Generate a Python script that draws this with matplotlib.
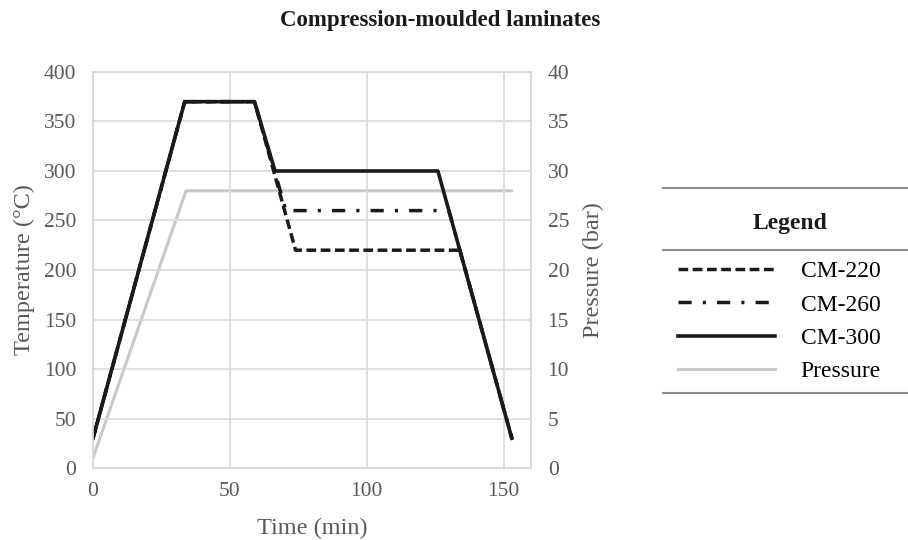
import matplotlib
matplotlib.use("Agg")
import matplotlib.pyplot as plt
from matplotlib.lines import Line2D

plt.rcParams['font.family'] = ['Liberation Serif', 'DejaVu Serif']

# time (min) / temperature (degC) for each cycle
t_cm220 = [0, 33.5, 59, 74, 134, 153]
T_cm220 = [30, 370, 370, 220, 220, 30]
t_cm260 = [0, 33.5, 59, 70.5, 130, 153]
T_cm260 = [30, 370, 370, 260, 260, 30]
t_cm300 = [0, 33.5, 59, 66.5, 126, 153]
T_cm300 = [30, 370, 370, 300, 300, 30]
# pressure (bar)
t_press = [0, 34, 153]
p_press = [1, 28, 28]

grid_c = '#d9d9d9'
txt_c = '#595959'
blk = '#1a1a1a'

fig = plt.figure(figsize=(9.08, 5.4), dpi=100)
ax = fig.add_axes([0.1024, 0.1333, 0.4824, 0.7334])
ax2 = ax.twinx()

l220, = ax.plot(t_cm220, T_cm220, color=blk, lw=2.5, ls=(0, (2.8, 1.3)), label='CM-220')
l260, = ax.plot(t_cm260, T_cm260, color=blk, lw=2.5, ls=(0, (3.8, 3.2, 0.9, 3.2)), label='CM-260')
l300, = ax.plot(t_cm300, T_cm300, color=blk, lw=2.6, label='CM-300')
lp, = ax2.plot(t_press, p_press, color='#c8c8c8', lw=2.2, label='Pressure')
ax.set_zorder(ax2.get_zorder() + 1)
ax.patch.set_visible(False)

ax.set_xlim(0, 160)
ax.set_ylim(0, 400)
ax2.set_ylim(0, 40)
ax.set_xticks([0, 50, 100, 150])
ax.set_yticks(range(0, 401, 50))
ax2.set_yticks(range(0, 41, 5))
ax.grid(True, color=grid_c, lw=1.2)
for a in (ax, ax2):
    for s in a.spines.values():
        s.set_color(grid_c)
        s.set_linewidth(1.2)
    a.tick_params(length=0, labelsize=15.5, colors=txt_c, pad=12)
ax.tick_params(axis='x', pad=10)

ax.set_xlabel('Time (min)', fontsize=17.5, color=txt_c, labelpad=12)
ax.set_ylabel('Temperature (°C)', fontsize=17.5, color=txt_c, labelpad=6)
ax2.set_ylabel('Pressure (bar)', fontsize=17.5, color=txt_c, labelpad=10)

fig.text(0.4846, 0.962, 'Compression-moulded laminates', ha='center', va='center',
         fontsize=16.5, fontweight='bold', color='#1a1a1a')

# legend block
fig.legend(handles=[l220, l260, l300, lp], loc='center left',
           bbox_to_anchor=(0.7467, 0.4046), frameon=False, fontsize=17,
           handlelength=4.1, handletextpad=1.1, labelspacing=0.5,
           borderpad=0, borderaxespad=0)
fig.text(790 / 908, 1 - 223 / 540, 'Legend', ha='center', va='center', fontsize=17,
         fontweight='bold', color='#1a1a1a')
for yy in (1 - 188 / 540, 1 - 250 / 540, 1 - 393 / 540):
    fig.add_artist(Line2D([663 / 908, 1.0], [yy, yy], transform=fig.transFigure,
                          color='#8c8c8c', lw=1.5))

fig.savefig('out.png', dpi=100)
